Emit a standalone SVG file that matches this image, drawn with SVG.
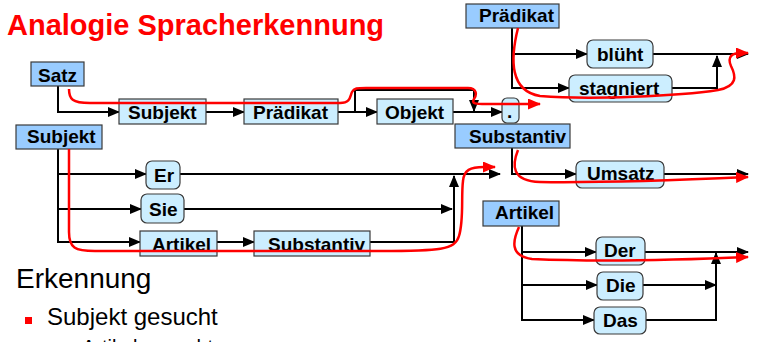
<svg xmlns="http://www.w3.org/2000/svg" width="758" height="342" viewBox="0 0 758 342">
<style>
.hdr{fill:#99ccff;stroke:#3a3a3a;stroke-width:1.2}
.seq{fill:#cceeff;stroke:#3a3a3a;stroke-width:1.2}
.term{fill:#cceeff;stroke:#3a3a3a;stroke-width:1.2}
.lbl{font-family:"Liberation Sans",Arial,sans-serif;font-weight:bold;font-size:19px;fill:#000}
.ln{fill:none;stroke:#000;stroke-width:2;marker-end:url(#ah)}
.ln0{fill:none;stroke:#000;stroke-width:2}
.red{fill:none;stroke:#ff0000;stroke-width:2.5;marker-end:url(#rh)}
.body{font-family:"Liberation Sans",Arial,sans-serif;fill:#000}
</style>
<defs>
<marker id="ah" markerUnits="userSpaceOnUse" markerWidth="12" markerHeight="10" refX="11" refY="5" orient="auto"><path d="M0,0 L12,5 L0,10 z" fill="#000"/></marker>
<marker id="rh" markerUnits="userSpaceOnUse" markerWidth="13" markerHeight="11" refX="12" refY="5.5" orient="auto"><path d="M0,0 L13,5.5 L0,11 z" fill="#ff0000"/></marker>
</defs>
<rect width="758" height="342" fill="#fff"/>
<text x="7" y="35" font-family="Liberation Sans,Arial,sans-serif" font-weight="bold" font-size="29" fill="#ff0000">Analogie Spracherkennung</text>

<g id="connectors">
<path class="ln" d="M58,86 V112 H119"/>
<path class="ln" d="M206,112 H244"/>
<path class="ln" d="M338,112 H377"/>
<path class="ln" d="M355,112 V90 H474 V111"/>
<path class="ln" d="M453,112 H502"/>
<path class="ln" d="M512,28 V88 H569"/>
<path class="ln" d="M512,54 H587"/>
<path class="ln" d="M653,54 H748"/>
<path class="ln" d="M672,88 H717 V56"/>
<path class="ln" d="M512,148 V174 H576"/>
<path class="ln" d="M664,174 H748"/>
<path class="ln" d="M58,149 V242 H140"/>
<path class="ln" d="M58,174 H146"/>
<path class="ln" d="M58,209 H141"/>
<path class="ln" d="M180,174 H500"/>
<path class="ln" d="M184,209 H452"/>
<path class="ln" d="M217,242 H254"/>
<path class="ln" d="M370,242 H454 V176"/>
<path class="ln" d="M522,226 V320 H594"/>
<path class="ln" d="M522,252 H596"/>
<path class="ln" d="M522,285 H597"/>
<path class="ln" d="M645,252 H748"/>
<path class="ln" d="M643,285 H716"/>
<path class="ln" d="M646,320 H716 V253"/>
</g>

<g id="n-satz"><rect class="hdr" x="31" y="62" width="53" height="24"/><text class="lbl" x="38" y="82">Satz</text></g>
<g id="n-subjekt-seq"><rect class="seq" x="119" y="99" width="87" height="25"/><text class="lbl" x="128" y="119">Subjekt</text></g>
<g id="n-praedikat-seq"><rect class="seq" x="244" y="99" width="94" height="25"/><text class="lbl" x="253" y="119">Prädikat</text></g>
<g id="n-objekt-seq"><rect class="seq" x="377" y="99" width="76" height="25"/><text class="lbl" x="385" y="119">Objekt</text></g>
<g id="n-punkt"><rect class="term" x="502" y="98" width="17" height="25" rx="5"/><text class="lbl" x="507" y="118">.</text></g>

<g id="n-praedikat-hdr"><rect class="hdr" x="466" y="4" width="93" height="24"/><text class="lbl" x="479" y="22">Prädikat</text></g>
<g id="n-blueht"><rect class="term" x="587" y="40" width="66" height="28" rx="6"/><text class="lbl" x="597" y="61">blüht</text></g>
<g id="n-stagniert"><rect class="term" x="569" y="75" width="103" height="27" rx="6"/><text class="lbl" x="579" y="95">stagniert</text></g>

<g id="n-substantiv-hdr"><rect class="hdr" x="455" y="124" width="115" height="24"/><text class="lbl" x="469" y="143">Substantiv</text></g>
<g id="n-umsatz"><rect class="term" x="576" y="161" width="88" height="27" rx="6"/><text class="lbl" x="587" y="180">Umsatz</text></g>

<g id="n-subjekt-hdr"><rect class="hdr" x="16" y="125" width="86" height="24"/><text class="lbl" x="27" y="143">Subjekt</text></g>
<g id="n-er"><rect class="term" x="146" y="161" width="34" height="28" rx="6"/><text class="lbl" x="154" y="182">Er</text></g>
<g id="n-sie"><rect class="term" x="141" y="194" width="43" height="29" rx="6"/><text class="lbl" x="149" y="216">Sie</text></g>
<g id="n-artikel-seq"><rect class="seq" x="140" y="231" width="77" height="25"/><text class="lbl" x="152" y="251">Artikel</text></g>
<g id="n-substantiv-seq"><rect class="seq" x="254" y="231" width="116" height="25"/><text class="lbl" x="268" y="251">Substantiv</text></g>

<g id="n-artikel-hdr"><rect class="hdr" x="483" y="201" width="76" height="25"/><text class="lbl" x="495" y="219">Artikel</text></g>
<g id="n-der"><rect class="term" x="596" y="237" width="49" height="28" rx="6"/><text class="lbl" x="604" y="257">Der</text></g>
<g id="n-die"><rect class="term" x="597" y="272" width="46" height="28" rx="6"/><text class="lbl" x="606" y="292">Die</text></g>
<g id="n-das"><rect class="term" x="594" y="307" width="52" height="27" rx="6"/><text class="lbl" x="603" y="327">Das</text></g>

<g id="paths">
<path class="red" d="M69,89 C69,99 72,103 90,103 L340,103 C351,103 350,96 352,92 C354,88 357,88 366,88 L468,88 C477,88 477,95 474,99 C471,104 476,104 486,104 L540,104"/>
<path class="red" d="M518,28 C510,60 510,91 540,96 C590,100 680,96 718,90 C738,86 736,76 731,66 C727,57 732,53 740,53 L748,53"/>
<path class="red" d="M518,150 C512,165 511,181 540,182 C600,183 680,180 748,177"/>
<path class="red" d="M69,149 L69,232 C69,248 75,251 95,251 L380,251 C440,251 455,250 459,236 C464,220 461,196 463,181 C464,170 470,167 484,167 L495,167"/>
<path class="red" d="M519,227 C513,240 509,256 532,259 C600,262 680,260 748,257"/>
</g>

<text class="body" x="16" y="288" font-size="28">Erkennung</text>
<rect x="25" y="317" width="7" height="7" fill="#ff0000"/>
<text class="body" x="47" y="325" font-size="24">Subjekt gesucht</text>
<text class="body" x="82" y="354" font-size="20">Artikel gesucht</text>
</svg>
